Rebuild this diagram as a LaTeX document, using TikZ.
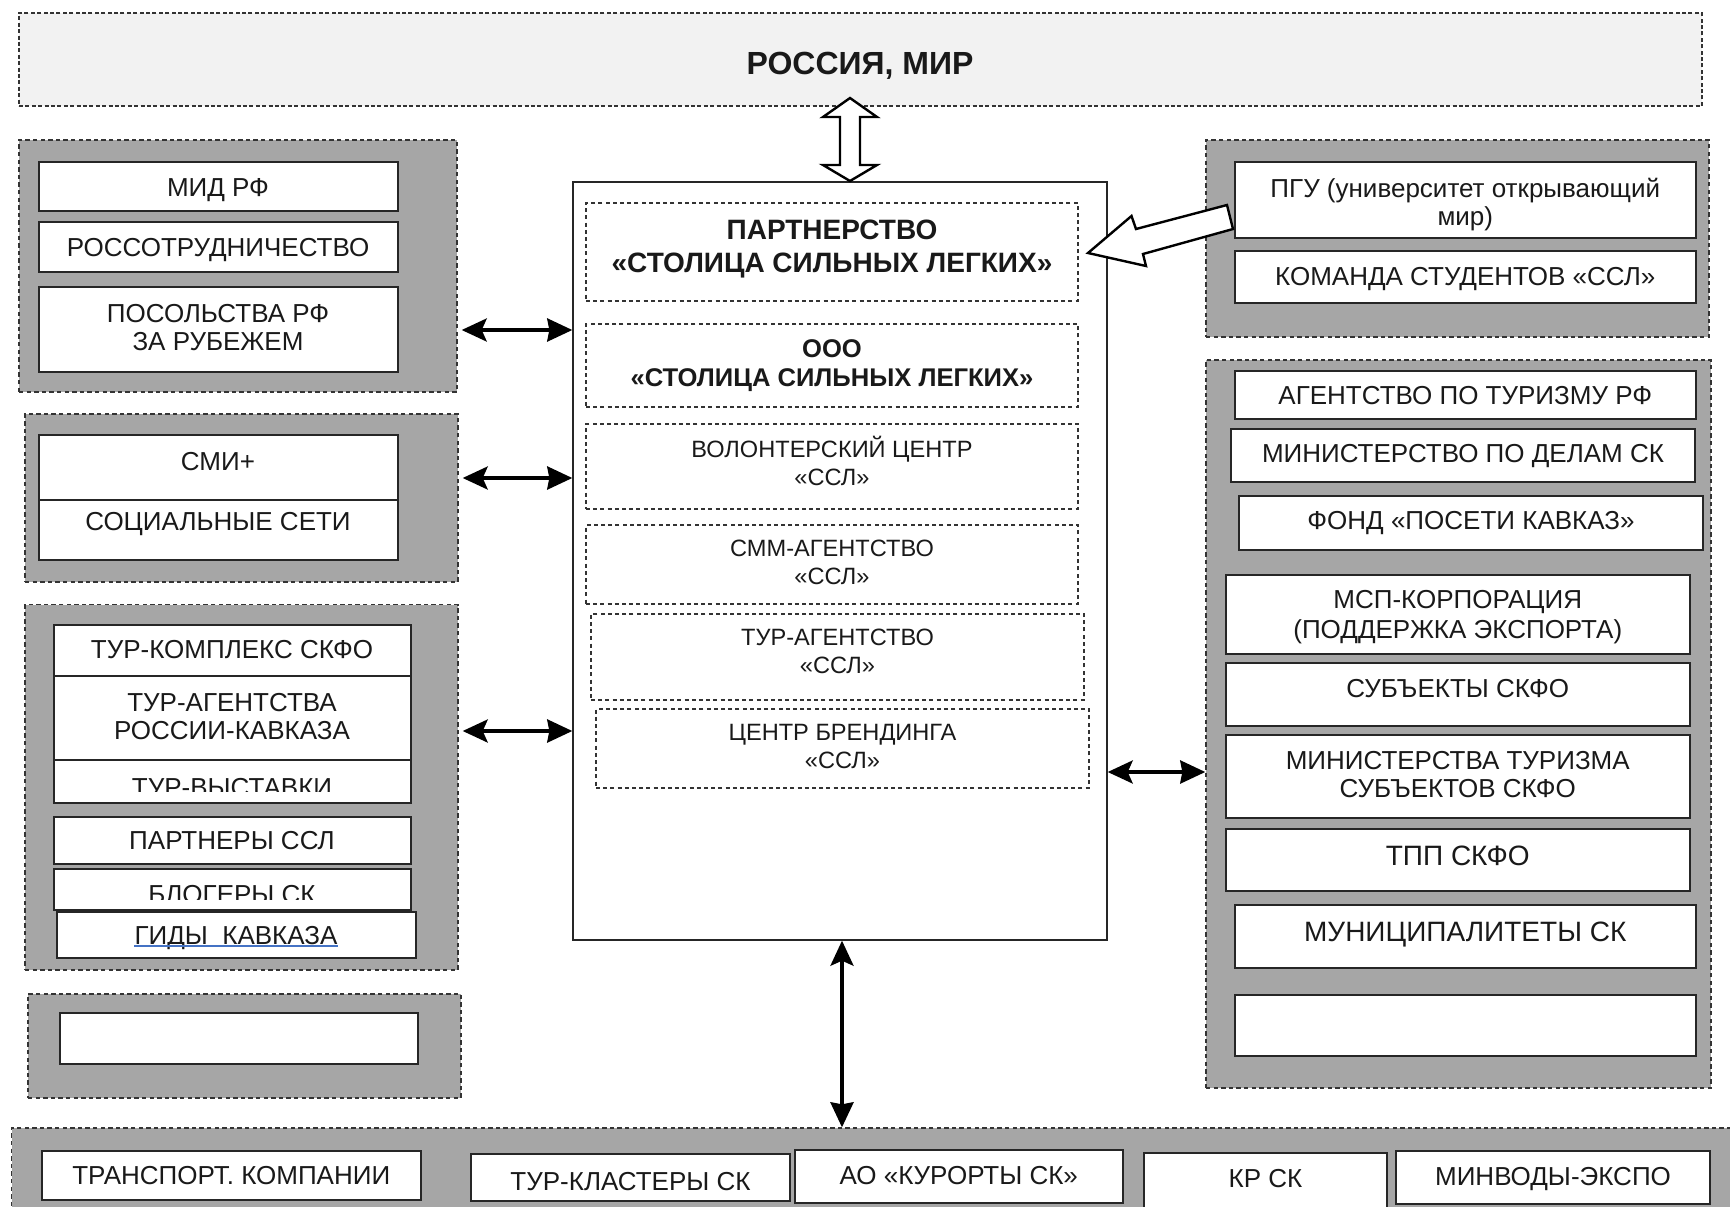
\documentclass[tikz,border=0pt]{standalone}
\usepackage{fontspec}
\setmainfont{Liberation Sans}
\usetikzlibrary{fit,arrows.meta}
\definecolor{grayfill}{HTML}{A6A6A6}
\definecolor{topfill}{HTML}{F2F2F2}
\definecolor{linkblue}{HTML}{4472C4}
\begin{document}
\begin{tikzpicture}[x=0.5pt,y=-0.5pt,
  grp/.style={draw=black!80, fill=grayfill, dash pattern=on 2.2pt off 1.6pt, line width=0.7pt, inner sep=0pt},
  wbox/.style={draw=black!85, fill=white, line width=1pt, inner sep=0pt},
  dbox/.style={draw=black!80, dash pattern=on 2pt off 1.6pt, line width=0.6pt, inner sep=0pt},
  cbox/.style={draw=black!85, fill=white, line width=0.7pt, inner sep=0pt},
  tx/.style={text=black!90, align=center, inner sep=0pt, font=\fontsize{13}{14}\selectfont},
  fsml/.style={font=\fontsize{11.8}{14}\selectfont},
  fthree/.style={font=\fontsize{13}{13.75}\selectfont},
  fmsp/.style={font=\fontsize{13}{15}\selectfont},
  fbig/.style={font=\fontsize{14}{15}\selectfont},
  fbA/.style={font=\bfseries\fontsize{14}{16.5}\selectfont},
  fbB/.style={font=\bfseries\fontsize{12.8}{14.5}\selectfont},
  fbT/.style={font=\bfseries\fontsize{16}{17}\selectfont},
  dbl/.style={line width=1.7pt, arrows={Stealth[length=12.5pt,width=11.5pt,inset=2.5pt]-Stealth[length=12.5pt,width=11.5pt,inset=1pt]}},
  hollow/.style={draw=black, fill=white, line width=1.2pt, line join=miter}
]
\clip (0,0) rectangle (1730,1206);
\fill[white] (0,0) rectangle (1730,1206);

% top box
\node[draw=black!80, fill=topfill, dash pattern=on 2pt off 1.2pt, line width=0.7pt, inner sep=0pt, fit={(19,13)(1702,106)}] (top) {};
\node[tx,fbT] (top-t) at (860,65.5) {РОССИЯ, МИР};

% central box
\node[cbox, fit={(573,182)(1107,940)}] (cb) {};
\node[dbox, fit={(586,203)(1078,301)}] (c1) {};
\node[tx,fbA] (c1-t) at (832,249.5) {ПАРТНЕРСТВО\\«СТОЛИЦА СИЛЬНЫХ ЛЕГКИХ»};
\node[dbox, fit={(586,324)(1078,407)}] (c2) {};
\node[tx,fbB] (c2-t) at (832,365.5) {ООО\\«СТОЛИЦА СИЛЬНЫХ ЛЕГКИХ»};
\node[dbox, fit={(586,424)(1078,509)}] (c3) {};
\node[tx,fsml] (c3-t) at (832,461) {ВОЛОНТЕРСКИЙ ЦЕНТР\\«ССЛ»};
\node[dbox, fit={(586,525)(1078,604)}] (c4) {};
\node[tx,fsml] (c4-t) at (832,562.5) {СММ-АГЕНТСТВО\\«ССЛ»};
\node[dbox, fit={(591,614)(1084,700)}] (c5) {};
\node[tx,fsml] (c5-t) at (837.5,651) {ТУР-АГЕНТСТВО\\«ССЛ»};
\node[dbox, fit={(596,709)(1089,788)}] (c6) {};
\node[tx,fsml] (c6-t) at (842.5,746.5) {ЦЕНТР БРЕНДИНГА\\«ССЛ»};

% left group 1
\node[grp, fit={(19,140)(457,392)}] (g1) {};
\node[wbox, fit={(38.5,162)(397.5,211)}] (l1a) {};
\node[tx] (l1a-t) at (218,190) {МИД РФ};
\node[wbox, fit={(38.5,222)(397.5,272)}] (l1b) {};
\node[tx] (l1b-t) at (218,250.5) {РОССОТРУДНИЧЕСТВО};
\node[wbox, fit={(38.5,287)(397.5,372)}] (l1c) {};
\node[tx] (l1c-t) at (218,327.5) {ПОСОЛЬСТВА РФ\\ЗА РУБЕЖЕМ};

% left group 2
\node[grp, fit={(25,414)(458,582)}] (g2) {};
\node[wbox, fit={(38.5,435)(397.5,499.5)}] (l2a) {};
\node[tx] (l2a-t) at (218,462) {СМИ+};
\node[wbox, fit={(38.5,499.5)(397.5,560)}] (l2b) {};
\node[tx] (l2b-t) at (218,524.5) {СОЦИАЛЬНЫЕ СЕТИ};

% left group 3
\node[grp, fit={(25,604.5)(458,970)}] (g3) {};
\node[wbox, fit={(53.5,624.5)(410.5,676)}] (l3a) {};
\node[tx,fthree] (l3a-t) at (232,650) {ТУР-КОМПЛЕКС СКФО};
\node[wbox, fit={(53.5,676)(410.5,760)}] (l3b) {};
\node[tx,fthree] (l3b-t) at (232,716.5) {ТУР-АГЕНТСТВА\\РОССИИ-КАВКАЗА};
\node[wbox, fit={(53.5,760)(410.5,803)}] (l3c) {};
\begin{scope}
\clip (53.5,760) rectangle (410.5,791);
\node[tx,fthree] (l3c-t) at (232,788) {ТУР-ВЫСТАВКИ};
\end{scope}
\node[wbox, fit={(53.5,817)(410.5,864)}] (l3d) {};
\node[tx,fthree] (l3d-t) at (232,841) {ПАРТНЕРЫ ССЛ};
\node[wbox, fit={(53.5,869)(410.5,909.5)}] (l3e) {};
\begin{scope}
\clip (53.5,869) rectangle (410.5,899);
\node[tx,fthree] (l3e-t) at (232,895) {БЛОГЕРЫ СК};
\end{scope}
\node[wbox, fit={(56.5,912)(416,958)}] (l3f) {};
\node[tx,fthree] (l3f-t) at (236,938.5) {ГИДЫ\ \ КАВКАЗА};
\draw[linkblue, line width=0.8pt] ([yshift=-0.6pt]l3f-t.base west) -- ([yshift=-0.6pt]l3f-t.base east);

% left group 4
\node[grp, fit={(28,994)(461,1098)}] (g4) {};
\node[wbox, fit={(60,1013)(418,1063.5)}] (l4a) {};

% right group 1
\node[grp, fit={(1206,140)(1709,337)}] (r1) {};
\node[wbox, fit={(1234.5,162)(1696,238)}] (r1a) {};
\node[tx] (r1a-t) at (1465.25,204.5) {ПГУ (университет открывающий\\мир)};
\node[wbox, fit={(1234.5,251)(1696,303)}] (r1b) {};
\node[tx] (r1b-t) at (1465.25,279) {КОМАНДА СТУДЕНТОВ «ССЛ»};

% right group 2
\node[grp, fit={(1206,360)(1711,1088)}] (r2) {};
\node[wbox, fit={(1234.5,371)(1696,418.5)}] (r2a) {};
\node[tx] (r2a-t) at (1465.25,396) {АГЕНТСТВО ПО ТУРИЗМУ РФ};
\node[wbox, fit={(1231,429)(1695,482)}] (r2b) {};
\node[tx] (r2b-t) at (1463,456) {МИНИСТЕРСТВО ПО ДЕЛАМ СК};
\node[wbox, fit={(1239,496)(1703,550)}] (r2c) {};
\node[tx] (r2c-t) at (1471,523) {ФОНД «ПОСЕТИ КАВКАЗ»};
\node[wbox, fit={(1225.5,574.5)(1690,654)}] (r2d) {};
\node[tx,fmsp] (r2d-t) at (1457.75,617) {МСП-КОРПОРАЦИЯ\\(ПОДДЕРЖКА ЭКСПОРТА)};
\node[wbox, fit={(1225.5,663)(1690,725.5)}] (r2e) {};
\node[tx] (r2e-t) at (1457.75,688.5) {СУБЪЕКТЫ СКФО};
\node[wbox, fit={(1225.5,735)(1690,817.5)}] (r2f) {};
\node[tx] (r2f-t) at (1457.75,775) {МИНИСТЕРСТВА ТУРИЗМА\\СУБЪЕКТОВ СКФО};
\node[wbox, fit={(1225.5,829)(1690,891)}] (r2g) {};
\node[tx,fbig] (r2g-t) at (1457.75,856) {ТПП СКФО};
\node[wbox, fit={(1234.5,905)(1696,968)}] (r2h) {};
\node[tx,fbig] (r2h-t) at (1465.25,934.5) {МУНИЦИПАЛИТЕТЫ СК};
\node[wbox, fit={(1234.5,994.5)(1696,1056)}] (r2i) {};

% bottom group
\node[grp, fit={(11.5,1128)(1745,1220)}] (bt) {};
\node[wbox, fit={(42,1151)(420.5,1199.5)}] (b1) {};
\node[tx] (b1-t) at (231.25,1176) {ТРАНСПОРТ. КОМПАНИИ};
\node[wbox, fit={(471,1154)(790,1200.5)}] (b2) {};
\node[tx] (b2-t) at (630.5,1181.5) {ТУР-КЛАСТЕРЫ СК};
\node[wbox, fit={(794.5,1149.5)(1123,1202.5)}] (b3) {};
\node[tx] (b3-t) at (958.75,1176) {АО «КУРОРТЫ СК»};
\node[wbox, fit={(1144,1153)(1387,1215)}] (b4) {};
\node[tx] (b4-t) at (1265.5,1179) {КР СК};
\node[wbox, fit={(1396,1151)(1710,1204)}] (b5) {};
\node[tx] (b5-t) at (1553,1178.5) {МИНВОДЫ-ЭКСПО};

% connectors
\coordinate (ya) at (0,330);
\coordinate (yb) at (0,478);
\coordinate (yc) at (0,731);
\coordinate (yd) at (0,772);
\draw[dbl] ([xshift=2pt]g1.east |- ya) -- (cb.west |- ya);
\draw[dbl] ([xshift=2pt]g2.east |- yb) -- (cb.west |- yb);
\draw[dbl] ([xshift=2pt]g3.east |- yc) -- (cb.west |- yc);
\draw[dbl] (cb.east |- yd) -- (r2.west |- yd);
\draw[dbl] (cb.south -| 842,0) -- (bt.north -| 842,0);

% hollow double arrow top
\draw[hollow] (850,98) -- (877,117) -- (860,117) -- (860,165) -- (877,165) -- (850,181)
  -- (823,165) -- (840,165) -- (840,117) -- (823,117) -- cycle;

% hollow block arrow from ПГУ
\draw[hollow] (1088,253) -- (1131.5,216) -- (1136,229) -- (1227,205) -- (1233,229)
  -- (1143,254) -- (1146,266) -- cycle;
\end{tikzpicture}
\end{document}
